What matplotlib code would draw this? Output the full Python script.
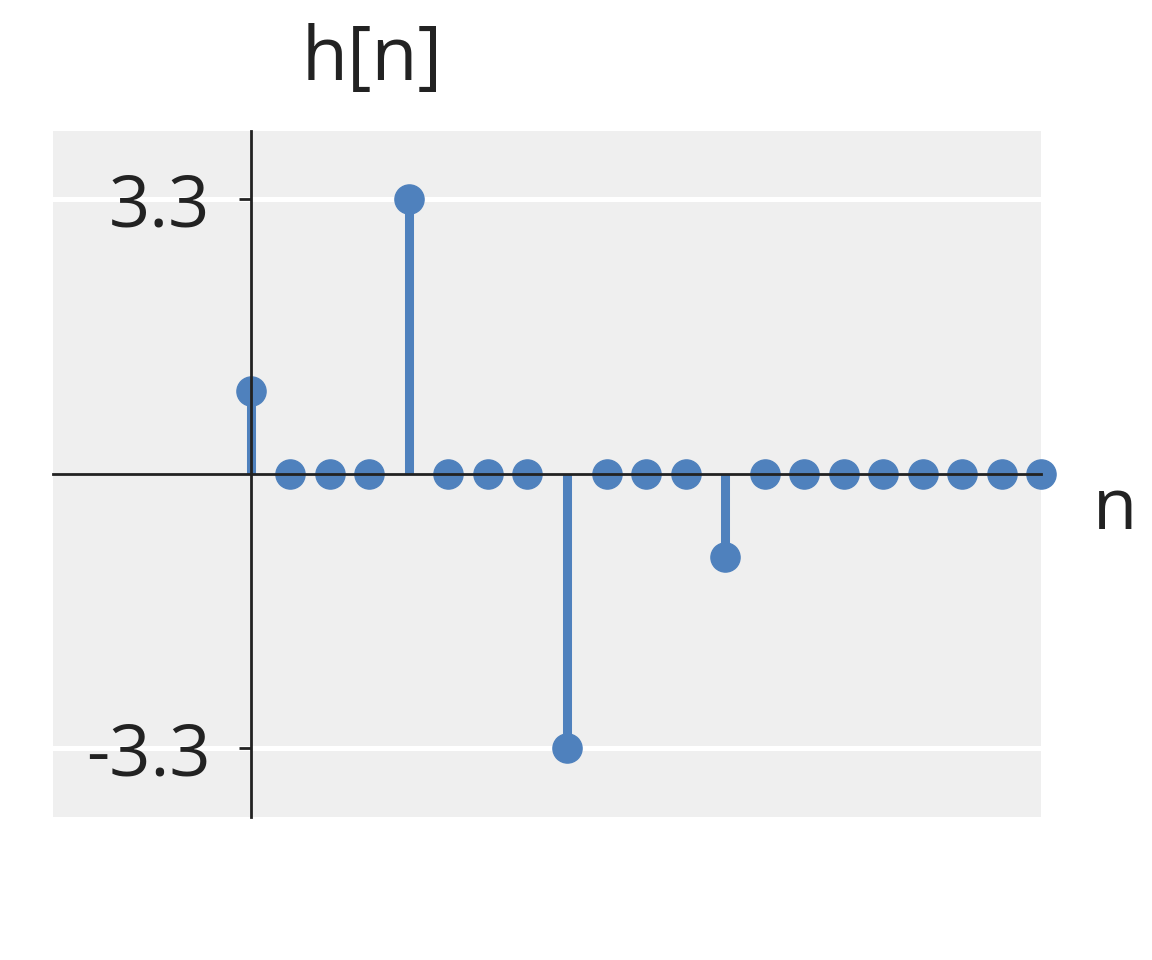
import numpy as np
import matplotlib.pyplot as plt

plt.rcParams['font.family'] = ['Open Sans', 'DejaVu Sans']

n = np.arange(0, 21)
h = np.zeros(21)
h[0] = 1.0
h[4] = 3.3
h[8] = -3.3
h[12] = -1.0

yticks = [-3.3, 3.3]
ytick_labels = ['-3.3', '3.3']

blue = '#4f81bd'

fig = plt.figure(figsize=(11.52, 9.6), dpi=100)
ax = fig.add_axes([0.046, 0.149, 0.858, 0.715])
ax.set_facecolor('#efefef')

markerline, stemlines, baseline = ax.stem(n, h, basefmt=' ')
plt.setp(stemlines, color=blue, linewidth=6.5, zorder=2)
plt.setp(markerline, color=blue, markersize=21, zorder=3, clip_on=False)

ax.set_xlim(-5, 20)
ax.set_ylim(-4.125, 4.125)

for s in ['top', 'right']:
    ax.spines[s].set_visible(False)
ax.spines['left'].set_position(('data', 0))
ax.spines['bottom'].set_position(('data', 0))
for s in ['left', 'bottom']:
    ax.spines[s].set_color('#222222')
    ax.spines[s].set_linewidth(2)
    ax.spines[s].set_zorder(4)

ax.set_xticks([])
ax.set_yticks(yticks)
ax.set_yticklabels(ytick_labels)
ax.tick_params(axis='y', direction='out', length=9, width=2, color='#222222',
               labelsize=52, labelcolor='#222222', pad=20)
ax.yaxis.grid(True, color='white', linewidth=3.6, zorder=0)
ax.set_axisbelow(True)

fig.text(0.323, 0.937, 'h[n]', fontsize=54, color='#222222', ha='center', va='center')
fig.text(0.968, 0.468, 'n', fontsize=52, color='#222222', ha='center', va='center')

fig.savefig('out.png', dpi=100)
